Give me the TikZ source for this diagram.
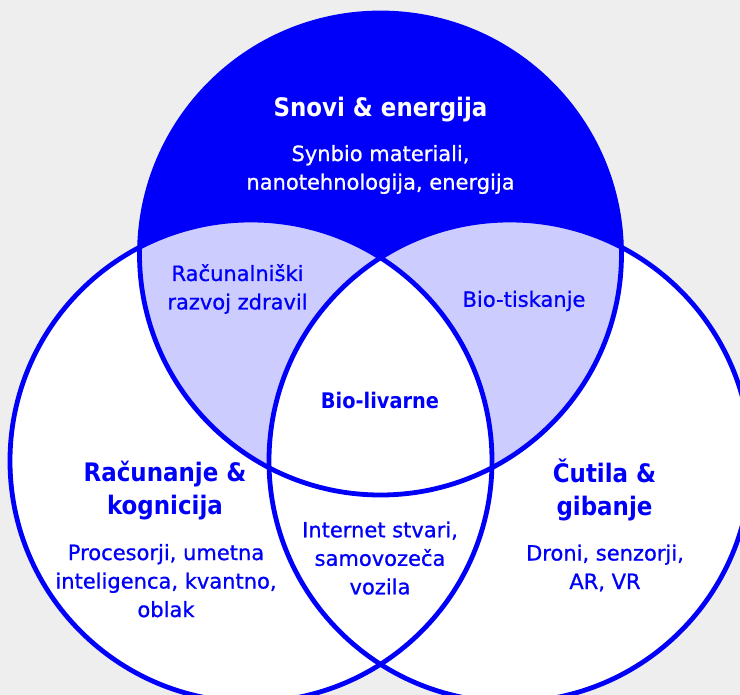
\documentclass[tikz,border=0pt]{standalone}
\usepackage{fontspec}
\setmainfont{DejaVu Sans}[FakeBold=0.9]
\newfontfamily\headfont{DejaVu Sans Condensed}[BoldFont={DejaVu Sans Condensed Bold}]
\definecolor{vblue}{HTML}{0000FA}
\definecolor{vlav}{HTML}{CCCCFF}
\definecolor{vbg}{HTML}{EEEEEE}
\tikzset{
  ring/.style={draw=vblue, line width=4.8pt},
  headtxt/.style={inner sep=0pt, align=center, text=vblue,
    font=\headfont\bfseries\fontsize{25.5}{33}\selectfont},
  bodytxt/.style={inner sep=0pt, align=center, text=vblue,
    font=\fontsize{21}{28.5}\selectfont},
  midtxt/.style={inner sep=0pt, align=center, text=vblue,
    font=\headfont\bfseries\fontsize{21.5}{28.5}\selectfont},
}
\begin{document}
\begin{tikzpicture}[x=1pt,y=-1pt]
  \useasboundingbox (0,0) rectangle (740,695);
  \fill[vbg] (0,0) rectangle (740,695);
  \clip (0,0) rectangle (740,695);

  % circle centres
  \coordinate (cT) at (380.5,254);
  \coordinate (cL) at (251,461);
  \coordinate (cR) at (510,461);
  \def\rr{241pt}

  % base fills
  \fill[white] (cL) circle[radius=\rr];
  \fill[white] (cR) circle[radius=\rr];
  \fill[vblue] (cT) circle[radius=\rr];
  % top circle overlapping the lower ones
  \begin{scope}
    \clip (cT) circle[radius=\rr];
    \fill[vlav] (cL) circle[radius=\rr];
    \fill[vlav] (cR) circle[radius=\rr];
  \end{scope}
  % common centre of all three
  \begin{scope}
    \clip (cT) circle[radius=\rr];
    \clip (cL) circle[radius=\rr];
    \fill[white] (cR) circle[radius=\rr];
  \end{scope}

  % outlines
  \draw[ring] (cL) circle[radius=\rr];
  \draw[ring] (cR) circle[radius=\rr];
  \draw[ring] (cT) circle[radius=\rr];

  % labels
  \node[headtxt, text=white] (tTitle) at (380.5,109.5) {Snovi \& energija};
  \node[bodytxt, text=white] (tTbody) at (380.5,169.5) {Synbio materiali,\\nanotehnologija, energija};

  \node[bodytxt] (tTL) at (237.5,289) {Računalniški\\razvoj zdravil};
  \node[bodytxt] (tTR) at (524,301) {Bio-tiskanje};
  \node[midtxt] (tMid) at (380,400.5) {Bio-livarne};

  \node[headtxt] (tLtitle) at (165,491) {Računanje \&\\kognicija};
  \node[bodytxt] (tLbody) at (166,580.7) {Procesorji, umetna\\inteligenca, kvantno,\\oblak};

  \node[bodytxt] (tLR) at (380,558) {Internet stvari,\\samovozeča\\vozila};

  \node[headtxt] (tRtitle) at (604.5,490) {Čutila \&\\gibanje};
  \node[bodytxt] (tRbody) at (605,568) {Droni, senzorji,\\AR, VR};
\end{tikzpicture}
\end{document}
